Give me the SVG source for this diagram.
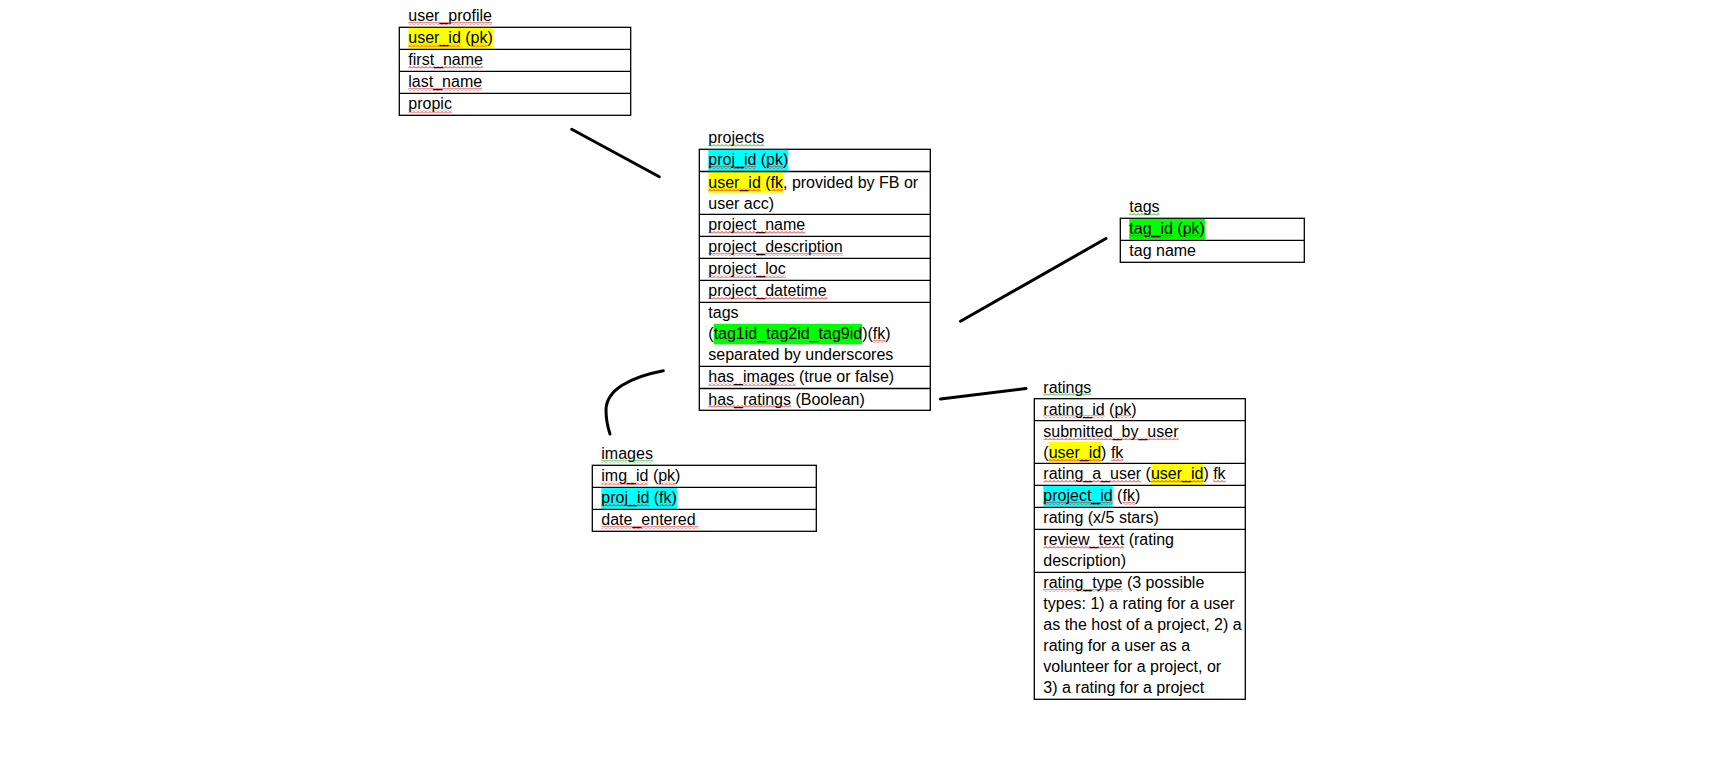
<svg xmlns="http://www.w3.org/2000/svg" width="1730" height="768" viewBox="0 0 1730 768">
<defs>
<pattern id="wr" width="4" height="3" patternUnits="userSpaceOnUse"><path d="M0 2.5 L2 0.5 L4 2.5" fill="none" stroke="#e00000" stroke-width="0.9"/></pattern>
<pattern id="wg" width="4" height="3" patternUnits="userSpaceOnUse"><path d="M0 2.5 L2 0.5 L4 2.5" fill="none" stroke="#00a000" stroke-width="0.9"/></pattern>
<style>
text{font-family:"Liberation Sans",Arial,sans-serif;font-size:16px;fill:#000}
.box{fill:#fff;stroke:#000;stroke-width:1.3}
.ln{stroke:#000;stroke-width:1.3}
.hy{fill:#ffff00}.hc{fill:#00ffff}.hg{fill:#00ff00}
.sr{fill:url(#wr)}.sg{fill:url(#wg)}
.con{fill:none;stroke:#000;stroke-width:3;stroke-linecap:round}
</style>
</defs>
<rect width="1730" height="768" fill="#fff"/>
<g id="connectors">
<path class="con" d="M571.7 129.3 L659.3 176.7"/>
<path class="con" d="M960.5 321.3 L1106 238.5"/>
<path class="con" d="M940.5 399 L1026 388.6"/>
<path class="con" d="M663.3 370.7 C630 377 606 390 606 410 C606 420 608 428 610 434"/>
</g>
<g id="user_profile">
<text x="408.3" y="21.3">user_profile</text>
<rect class="sr" x="408.3" y="21.8" width="83.6" height="3"/>
<rect class="box" x="399.3" y="27.3" width="231.4" height="88"/>
<rect class="hy" x="408.3" y="27.9" width="84.5" height="20.8"/>
<line class="ln" x1="399.3" y1="49.3" x2="630.7" y2="49.3"/>
<line class="ln" x1="399.3" y1="71.3" x2="630.7" y2="71.3"/>
<line class="ln" x1="399.3" y1="93.3" x2="630.7" y2="93.3"/>
<text x="408.3" y="43.3">user_id (pk)</text>
<text x="408.3" y="65.3">first_name</text>
<text x="408.3" y="87.3">last_name</text>
<text x="408.3" y="109.3">propic</text>
<rect class="sr" x="408.3" y="43.8" width="52.5" height="3"/>
<rect class="sr" x="470.6" y="43.8" width="16.9" height="3"/>
<rect class="sr" x="408.3" y="65.8" width="74.7" height="3"/>
<rect class="sr" x="408.3" y="87.8" width="73.8" height="3"/>
<rect class="sr" x="408.3" y="109.8" width="43.6" height="3"/>
</g>
<g id="projects">
<text x="708.3" y="143.3">projects</text>
<rect class="sg" x="708.3" y="143.8" width="56" height="3"/>
<rect class="box" x="699.3" y="149.3" width="231" height="261"/>
<rect class="hc" x="708.3" y="149.9" width="80" height="21"/>
<rect class="hy" x="708.3" y="172.1" width="74.7" height="20.6"/>
<rect class="hg" x="713.6" y="323.8" width="148.5" height="20.5"/>
<line class="ln" x1="699.3" y1="171.5" x2="930.3" y2="171.5"/>
<line class="ln" x1="699.3" y1="214.3" x2="930.3" y2="214.3"/>
<line class="ln" x1="699.3" y1="236.3" x2="930.3" y2="236.3"/>
<line class="ln" x1="699.3" y1="258.3" x2="930.3" y2="258.3"/>
<line class="ln" x1="699.3" y1="280.3" x2="930.3" y2="280.3"/>
<line class="ln" x1="699.3" y1="302.3" x2="930.3" y2="302.3"/>
<line class="ln" x1="699.3" y1="366.3" x2="930.3" y2="366.3"/>
<line class="ln" x1="699.3" y1="388.5" x2="930.3" y2="388.5"/>
<text x="708.3" y="165.3">proj_id (pk)</text>
<text x="708.3" y="187.5">user_id (fk, provided by FB or</text>
<text x="708.3" y="208.5">user acc)</text>
<text x="708.3" y="230.3">project_name</text>
<text x="708.3" y="252.3">project_description</text>
<text x="708.3" y="274.3">project_loc</text>
<text x="708.3" y="296.3">project_datetime</text>
<text x="708.3" y="318.3">tags</text>
<text x="708.3" y="339.3">(tag1id_tag2id_tag9id)(fk)</text>
<text x="708.3" y="360.3">separated by underscores</text>
<text x="708.3" y="382.3">has_images (true or false)</text>
<text x="708.3" y="404.5">has_ratings (Boolean)</text>
<rect class="sr" x="708.3" y="165.8" width="48" height="3"/>
<rect class="sr" x="766.1" y="165.8" width="16.9" height="3"/>
<rect class="sr" x="708.3" y="188" width="52.5" height="3"/>
<rect class="sr" x="770.6" y="188" width="12.45" height="3"/>
<rect class="sr" x="708.3" y="230.8" width="97" height="3"/>
<rect class="sr" x="708.3" y="252.8" width="134.3" height="3"/>
<rect class="sr" x="708.3" y="274.8" width="77.4" height="3"/>
<rect class="sr" x="708.3" y="296.8" width="119.3" height="3"/>
<rect class="sr" x="872.8" y="339.8" width="12.45" height="3"/>
<rect class="sr" x="708.3" y="382.8" width="87.2" height="3"/>
<rect class="sr" x="708.3" y="405" width="82.7" height="3"/>
</g>
<g id="tags">
<text x="1129.3" y="212.3">tags</text>
<rect class="sg" x="1129.3" y="212.8" width="30.3" height="3"/>
<rect class="box" x="1120.3" y="218.3" width="184" height="44"/>
<rect class="hg" x="1129.3" y="218.9" width="75.6" height="20.8"/>
<line class="ln" x1="1120.3" y1="240.3" x2="1304.3" y2="240.3"/>
<text x="1129.3" y="234.3">tag_id (pk)</text>
<text x="1129.3" y="256.3">tag name</text>
<rect class="sr" x="1129.3" y="234.8" width="43.6" height="3"/>
<rect class="sr" x="1182.7" y="234.8" width="16.9" height="3"/>
</g>
<g id="images">
<text x="601.3" y="459.3">images</text>
<rect class="sg" x="601.3" y="459.8" width="51.6" height="3"/>
<rect class="box" x="592.3" y="465.3" width="224" height="66"/>
<rect class="hc" x="601.3" y="487.9" width="75.6" height="20.8"/>
<line class="ln" x1="592.3" y1="487.3" x2="816.3" y2="487.3"/>
<line class="ln" x1="592.3" y1="509.3" x2="816.3" y2="509.3"/>
<text x="601.3" y="481.3">img_id (pk)</text>
<text x="601.3" y="503.3">proj_id (fk)</text>
<text x="601.3" y="525.3">date_entered</text>
<rect class="sr" x="601.3" y="481.8" width="47.1" height="3"/>
<rect class="sr" x="658.2" y="481.8" width="16.9" height="3"/>
<rect class="sr" x="601.3" y="503.8" width="48" height="3"/>
<rect class="sr" x="659.1" y="503.8" width="12.45" height="3"/>
<rect class="sr" x="601.3" y="525.8" width="97.2" height="3"/>
</g>
<g id="ratings">
<text x="1043.3" y="392.7">ratings</text>
<rect class="sg" x="1043.3" y="393.2" width="48" height="3"/>
<rect class="box" x="1034.3" y="398.7" width="211" height="300.6"/>
<rect class="hy" x="1048.6" y="441.7" width="52.5" height="20.6"/>
<rect class="hy" x="1150.9" y="463.9" width="52.5" height="20.8"/>
<rect class="hc" x="1043.3" y="485.9" width="69.4" height="20.8"/>
<line class="ln" x1="1034.3" y1="420.7" x2="1245.3" y2="420.7"/>
<line class="ln" x1="1034.3" y1="463.3" x2="1245.3" y2="463.3"/>
<line class="ln" x1="1034.3" y1="485.3" x2="1245.3" y2="485.3"/>
<line class="ln" x1="1034.3" y1="507.3" x2="1245.3" y2="507.3"/>
<line class="ln" x1="1034.3" y1="529.3" x2="1245.3" y2="529.3"/>
<line class="ln" x1="1034.3" y1="572.3" x2="1245.3" y2="572.3"/>
<text x="1043.3" y="414.7">rating_id (pk)</text>
<text x="1043.3" y="436.7">submitted_by_user</text>
<text x="1043.3" y="457.7">(user_id) fk</text>
<text x="1043.3" y="479.3">rating_a_user (user_id) fk</text>
<text x="1043.3" y="501.3">project_id (fk)</text>
<text x="1043.3" y="523.3">rating (x/5 stars)</text>
<text x="1043.3" y="545.3">review_text (rating</text>
<text x="1043.3" y="566.3">description)</text>
<text x="1043.3" y="588.3">rating_type (3 possible</text>
<text x="1043.3" y="609.3">types: 1) a rating for a user</text>
<text x="1043.3" y="630.3">as the host of a project, 2) a</text>
<text x="1043.3" y="651.3">rating for a user as a</text>
<text x="1043.3" y="672.3">volunteer for a project, or</text>
<text x="1043.3" y="693.3">3) a rating for a project</text>
<rect class="sr" x="1043.3" y="415.2" width="61.4" height="3"/>
<rect class="sr" x="1114.5" y="415.2" width="16.9" height="3"/>
<rect class="sr" x="1043.3" y="437.2" width="135.2" height="3"/>
<rect class="sr" x="1048.6" y="458.2" width="52.5" height="3"/>
<rect class="sr" x="1110.9" y="458.2" width="12.45" height="3"/>
<rect class="sr" x="1043.3" y="479.8" width="97.8" height="3"/>
<rect class="sr" x="1150.9" y="479.8" width="52.5" height="3"/>
<rect class="sr" x="1213.2" y="479.8" width="12.45" height="3"/>
<rect class="sr" x="1043.3" y="501.8" width="69.4" height="3"/>
<rect class="sr" x="1122.5" y="501.8" width="12.45" height="3"/>
<rect class="sr" x="1043.3" y="545.8" width="80.9" height="3"/>
<rect class="sr" x="1043.3" y="588.8" width="79.2" height="3"/>
</g>
</svg>
